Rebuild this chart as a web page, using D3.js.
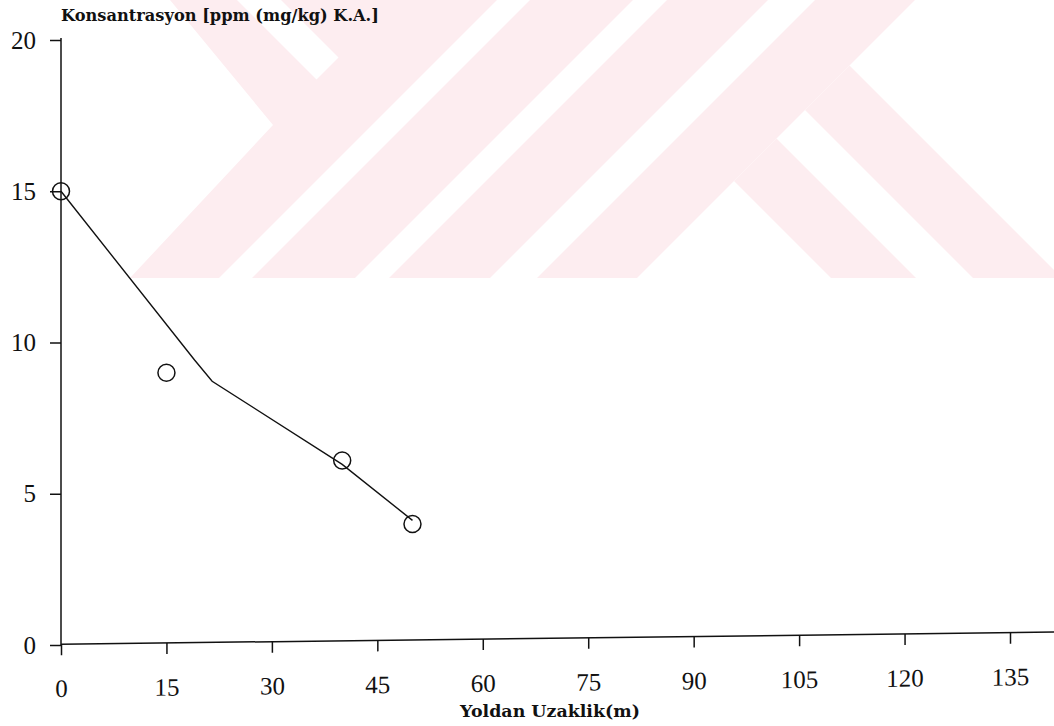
<!DOCTYPE html>
<html><head><meta charset="utf-8">
<script src="https://cdn.jsdelivr.net/npm/d3@7"></script>
<style>body{margin:0;background:#fff}svg{display:block}</style>
</head><body><svg id="c" width="1054" height="726"></svg>
<script>
// ---- data ----
const pointX = [0, 15, 40, 50];
const pointY = [15, 9, 6.1, 4.0];
const fitX = [0, 19, 21.5, 40, 50];
const fitY = [15, 9.42, 8.72, 5.97, 4.12];
const xTicks = [0, 15, 30, 45, 60, 75, 90, 105, 120, 135];
const yTicks = [0, 5, 10, 15, 20];
const xTitle = "Yoldan Uzaklik(m)";
const yTitle = "Konsantrasyon [ppm (mg/kg) K.A.]";

// ---- background watermark (decoration, not data) ----
const wmBase = [[170,0],[1054,0],[1054,278],[130,278],[273,125]];
const wmGaps = [
  [[237,0],[281,0],[338.5,57.5],[316.5,79.5]],
  [[497,0],[530,0],[252,278],[219,278]],
  [[633,0],[667,0],[389,278],[355,278]],
  [[768,0],[815,0],[537,278],[490,278]],
  [[915,0],[1054,0],[1054,278],[637,278]]
];
const wmBands = [
  [[734,181],[776.5,138.5],[916,278],[831,278]],
  [[805,110],[849.5,65.5],[1054,270],[1054,278],[973,278]]
];

const W = 1054, H = 726;
const svg = d3.select("#c");
const pink = "#fdedf0";
const poly = p => "M" + p.map(d => d.join(",")).join("L") + "Z";
const wm = svg.append("g").attr("class", "watermark");
wm.append("path").attr("d", poly(wmBase)).attr("fill", pink);
wm.selectAll(".gap").data(wmGaps).join("path").attr("class","gap").attr("d", poly).attr("fill", "#fff");
wm.selectAll(".band").data(wmBands).join("path").attr("class","band").attr("d", poly).attr("fill", pink);

// ---- scales ----
const x = d3.scaleLinear().domain([0, 135]).range([61, 1010]);
const y = d3.scaleLinear().domain([0, 20]).range([645, 40]);

const ink = "#111";
const tickFont = "'Liberation Serif', serif";

// x axis (slightly skewed like the scan)
const gx = svg.append("g")
  .attr("transform", `translate(0,${y(0)}) skewY(-0.7)`)
  .call(d3.axisBottom(x).tickValues(xTicks).tickSize(11).tickSizeOuter(0).tickPadding(24));
gx.select(".domain").attr("d", `M${x(0)},0H${W}`);
gx.selectAll("line, path").attr("stroke", ink).attr("stroke-width", 1.5);
gx.selectAll("text").attr("font-family", tickFont).attr("font-size", 25).attr("fill", ink);

// y axis
const gy = svg.append("g")
  .attr("transform", `translate(${x(0)},0)`)
  .call(d3.axisLeft(y).tickValues(yTicks).tickSize(11).tickSizeOuter(0).tickPadding(14));
gy.select(".domain").attr("d", `M0,${y(0)}V${y(20) - 2}`);
gy.selectAll("line, path").attr("stroke", ink).attr("stroke-width", 1.5);
gy.selectAll("text").attr("font-family", tickFont).attr("font-size", 25).attr("fill", ink);

// fitted line
const fit = fitX.map((v, i) => [v, fitY[i]]);
svg.append("path")
  .datum(fit)
  .attr("d", d3.line().x(d => x(d[0])).y(d => y(d[1])))
  .attr("fill", "none").attr("stroke", ink).attr("stroke-width", 1.4);

// observed points
const pts = pointX.map((v, i) => [v, pointY[i]]);
svg.selectAll(".pt").data(pts).join("circle")
  .attr("class", "pt")
  .attr("cx", d => x(d[0])).attr("cy", d => y(d[1]))
  .attr("r", 8.5)
  .attr("fill", "none").attr("stroke", ink).attr("stroke-width", 1.5);

// titles
function fitText(t, target) {
  const w = t.node().getComputedTextLength();
  const fs = parseFloat(t.attr("font-size"));
  t.attr("font-size", fs * target / w);
}
const titleFont = "'DejaVu Serif', serif";
const yt = svg.append("text").text(yTitle)
  .attr("x", x(0)).attr("y", 21)
  .attr("font-family", titleFont).attr("font-weight", "bold").attr("font-size", 15).attr("fill", ink);
fitText(yt, 318);
const xt = svg.append("text").text(xTitle)
  .attr("x", 550).attr("y", 717).attr("text-anchor", "middle")
  .attr("font-family", titleFont).attr("font-weight", "bold").attr("font-size", 15).attr("fill", ink);
fitText(xt, 180);
</script></body></html>
